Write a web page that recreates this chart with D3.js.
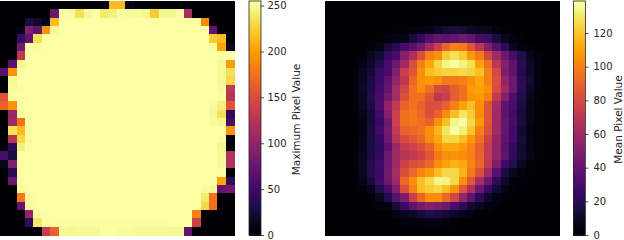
<!DOCTYPE html>
<html><head><meta charset="utf-8">
<style>html,body{margin:0;padding:0;background:#fff}svg{display:block}text{font-family:"DejaVu Sans",sans-serif;fill:#262626}</style>
<script src="https://cdn.jsdelivr.net/npm/d3@7"></script></head><body>
<script>
const maxPixel = [
[0,0,0,0,0,0,0,0,0,0,0,0,10,215,215,12,0,0,0,0,0,0,0,0,0,0,0,0],
[0,0,0,0,0,0,75,254,253,235,251,255,240,245,254,252,252,249,225,249,249,254,115,0,0,0,0,0],
[0,0,0,30,20,10,215,255,255,255,255,255,255,255,255,255,255,255,255,255,255,255,255,255,190,0,0,0],
[0,0,8,90,70,195,251,255,255,255,255,255,255,255,255,255,255,255,255,255,255,255,255,255,255,70,0,0],
[0,0,45,70,235,255,255,255,255,255,255,255,255,255,255,255,255,255,255,255,255,255,255,255,255,225,215,0],
[0,0,80,255,253,255,255,255,255,255,255,255,255,255,255,255,255,255,255,255,255,255,255,255,255,253,205,15],
[0,0,130,255,255,255,255,255,255,255,255,255,255,255,255,255,255,255,255,255,255,255,255,255,255,255,254,255],
[0,65,249,255,255,255,255,255,255,255,255,255,255,255,255,255,255,255,255,255,255,255,255,255,255,255,251,200],
[65,195,255,255,255,255,255,255,255,255,255,255,255,255,255,255,255,255,255,255,255,255,255,255,255,255,251,235],
[0,251,255,255,255,255,255,255,255,255,255,255,255,255,255,255,255,255,255,255,255,255,255,255,255,255,251,230],
[0,253,254,255,255,255,255,255,255,255,255,255,255,255,255,255,255,255,255,255,255,255,255,255,255,255,253,130],
[155,254,255,255,255,255,255,255,255,255,255,255,255,255,255,255,255,255,255,255,255,255,255,255,255,255,254,125],
[165,195,255,255,255,255,255,255,255,255,255,255,255,255,255,255,255,255,255,255,255,255,255,255,255,253,245,155],
[0,105,253,255,255,255,255,255,255,255,255,255,255,255,255,255,255,255,255,255,255,255,255,255,255,251,235,40],
[0,110,175,254,255,255,255,255,255,255,255,255,255,255,255,255,255,255,255,255,255,255,255,255,255,253,249,55],
[0,235,215,254,255,255,255,255,255,255,255,255,255,255,255,255,255,255,255,255,255,255,255,255,255,255,255,195],
[0,125,230,254,255,255,255,255,255,255,255,255,255,255,255,255,255,255,255,255,255,255,255,255,255,255,254,8],
[0,40,245,255,255,255,255,255,255,255,255,255,255,255,255,255,255,255,255,255,255,255,255,255,255,255,249,3],
[55,25,255,255,255,255,255,255,255,255,255,255,255,255,255,255,255,255,255,255,255,255,255,255,255,255,252,120],
[12,90,254,255,255,255,255,255,255,255,255,255,255,255,255,255,255,255,255,255,255,255,255,255,255,255,252,120],
[0,35,254,255,255,255,255,255,255,255,255,255,255,255,255,255,255,255,255,255,255,255,255,255,255,255,254,3],
[0,75,254,255,255,255,255,255,255,255,255,255,255,255,255,255,255,255,255,255,255,255,255,255,255,254,205,40],
[0,0,253,255,255,255,255,255,255,255,255,255,255,255,255,255,255,255,255,255,255,255,255,255,253,251,70,80],
[0,0,180,253,255,255,255,255,255,255,255,255,255,255,255,255,255,255,255,255,255,255,255,255,240,175,0,0],
[0,0,70,253,255,255,255,255,255,255,255,255,255,255,255,255,255,255,255,255,255,255,255,255,230,175,0,0],
[0,0,0,100,253,254,255,255,255,255,255,255,255,255,255,255,255,255,255,255,255,255,255,185,0,0,0,0],
[0,0,0,40,240,254,254,254,254,254,254,254,254,254,254,254,254,254,254,254,255,255,255,140,0,0,0,0],
[0,0,0,0,5,135,165,251,249,251,251,251,255,255,253,253,251,251,251,251,251,251,70,0,0,0,0,0]
];
const meanPixel = [
[0,0,0,0,0,0,0,0,0,0,0,0,0,0,0,0,0,0,0,0,0,0,0,0,0,0,0,0],
[0,0,0,0,0,0,0,0,0,0,0,0,0,0,0,0,0,0,0,0,0,0,0,0,0,0,0,0],
[0,0,0,0,0,0,0,0,0,0,0,0,1,2,2,2,2,2,1,0,0,0,0,0,0,0,0,0],
[0,0,0,0,0,0,0,0,1,2,3,4,6,10,14,15,14,10,8,8,4,2,1,0,0,0,0,0],
[0,0,0,0,0,0,1,4,6,6,14,24,34,40,38,40,44,40,30,28,15,8,4,2,0,0,0,0],
[0,0,0,0,0,2,5,14,20,30,36,45,60,75,92,100,98,85,70,50,35,22,8,4,3,1,0,0],
[0,0,0,0,1,8,12,24,30,50,65,82,100,105,122,128,122,108,98,78,60,42,30,18,8,3,0,0],
[0,0,0,1,5,10,18,30,42,60,82,100,112,125,135,138,134,128,110,95,70,50,38,20,10,3,0,0],
[0,0,0,1,8,12,25,30,50,75,85,105,118,122,124,124,126,124,118,100,80,48,38,18,10,3,0,0],
[0,0,0,2,8,16,25,38,55,70,92,105,108,105,98,98,100,105,112,100,82,55,42,22,12,3,0,0],
[0,0,0,2,9,16,28,40,62,78,95,104,95,80,78,88,95,108,110,105,80,60,42,22,10,3,0,0],
[0,0,0,2,8,18,30,45,62,82,95,95,85,70,75,88,95,106,108,100,72,50,32,18,8,2,0,0],
[0,0,0,2,8,16,32,55,72,90,96,90,82,82,90,100,110,118,105,85,62,38,30,16,6,1,0,0],
[0,0,0,1,6,14,28,50,76,94,98,92,82,90,104,118,130,122,105,85,60,38,28,14,6,1,0,0],
[0,0,0,1,5,14,26,42,76,95,98,95,90,105,118,135,138,125,108,85,60,40,30,14,6,1,0,0],
[0,0,0,1,5,15,28,45,72,90,92,96,105,116,130,138,133,120,100,82,60,40,28,12,4,1,0,0],
[0,0,0,1,6,15,24,42,68,80,86,92,104,112,125,125,118,108,95,76,55,38,28,14,5,1,0,0],
[0,0,0,1,6,15,22,38,58,72,76,82,90,105,112,112,108,100,88,72,55,35,24,12,4,1,0,0],
[0,0,0,2,8,16,24,42,60,68,72,76,85,98,105,106,104,100,90,72,55,38,22,12,6,1,0,0],
[0,0,0,2,8,18,28,42,60,75,82,85,92,104,110,115,112,102,92,72,48,28,18,8,2,0,0,0],
[0,0,0,1,8,18,26,45,62,82,92,102,108,118,125,125,115,98,82,60,35,16,8,3,1,0,0,0],
[0,0,0,0,6,14,28,42,60,92,105,118,126,135,134,125,105,85,62,42,22,10,4,1,0,0,0,0],
[0,0,0,0,3,6,18,30,50,82,100,118,122,125,118,106,85,65,42,25,12,6,1,0,0,0,0,0],
[0,0,0,0,0,2,8,18,35,48,75,92,104,104,92,78,55,38,22,10,5,2,0,0,0,0,0,0],
[0,0,0,0,0,0,3,5,14,25,38,46,50,48,42,30,22,12,8,4,2,0,0,0,0,0,0,0],
[0,0,0,0,0,0,0,2,4,7,10,14,18,16,13,10,6,4,2,1,0,0,0,0,0,0,0,0],
[0,0,0,0,0,0,0,0,1,3,3,3,4,4,3,2,1,0,0,0,0,0,0,0,0,0,0,0],
[0,0,0,0,0,0,0,0,0,0,0,0,0,0,0,0,0,0,0,0,0,0,0,0,0,0,0,0]
];
const maxTicks = [0,50,100,150,200,250];
const meanTicks = [0,20,40,60,80,100,120];
const maxDomain = 255, meanDomain = 139;

const svg = d3.select("body").append("svg").attr("width",624).attr("height",240);

function panel(data, domainMax, ticks, title, imgX, barX, labelX, pad){
  const idx = d3.range(28);
  const x = d3.scaleBand().domain(idx).range([imgX, imgX+234]);
  const y = d3.scaleBand().domain(idx).range([1, 235]);
  const color = d3.scaleSequential(d3.interpolateInferno).domain([0, domainMax]);
  const g = svg.append("g").attr("shape-rendering","crispEdges");
  g.selectAll("g").data(data).join("g").each(function(row,r){
    d3.select(this).selectAll("rect").data(row).join("rect")
      .attr("x",(d,c)=>x(c)).attr("y",y(r))
      .attr("width",x.bandwidth()+0.5).attr("height",y.bandwidth()+0.5)
      .attr("fill",d=>color(d));
  });
  const cy = d3.scaleLinear().domain([0,domainMax]).range([235,1]);
  const levels = d3.range(0,234).map(i=>domainMax*i/233);
  g.append("g").selectAll("rect").data(levels).join("rect")
    .attr("x",barX).attr("width",12)
    .attr("y",d=>cy(d)-1).attr("height",1.5)
    .attr("fill",d=>color(d));
  const axis = d3.axisRight(cy).tickValues(ticks).tickSize(3.5).tickPadding(pad);
  const ag = svg.append("g").attr("transform",`translate(${barX+12},0)`).call(axis);
  ag.select(".domain").remove();
  ag.selectAll("line").attr("stroke","#262626").attr("stroke-width",0.8);
  ag.selectAll("text").attr("font-size",10).attr("font-family",'"DejaVu Sans",sans-serif').attr("fill","#262626");
  svg.append("rect").attr("x",barX+0.5).attr("y",1).attr("width",12).attr("height",234)
    .attr("fill","none").attr("stroke","#262626").attr("stroke-width",0.8);
  svg.append("text").attr("transform",`translate(${labelX},119.5) rotate(-90)`)
    .attr("text-anchor","middle").attr("font-size",10.5).text(title);
}
panel(maxPixel, maxDomain, maxTicks, "Maximum Pixel Value", 0, 248.5, 300, 3.5);
panel(meanPixel, meanDomain, meanTicks, "Mean Pixel Value", 325, 573, 621.5, 5);
</script></body></html>
